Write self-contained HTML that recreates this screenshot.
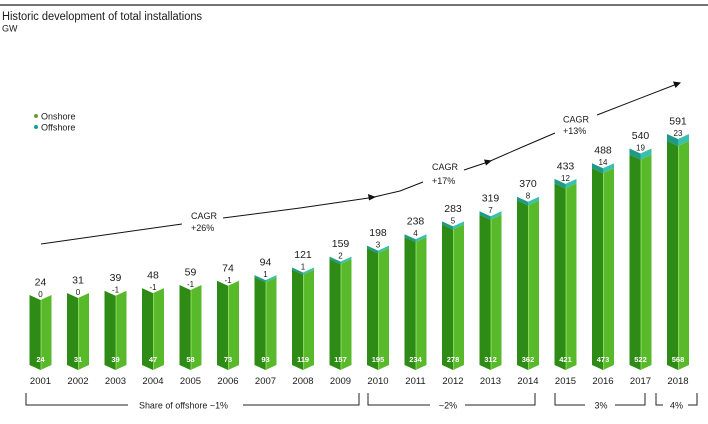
<!DOCTYPE html>
<html>
<head>
<meta charset="utf-8">
<style>
  html,body{margin:0;padding:0;background:#fff;}
  svg{display:block;}
  text{font-family:"Liberation Sans",Arial,sans-serif;fill:#1a1a1a;}
</style>
</head>
<body>
<svg width="708" height="424" viewBox="0 0 708 424" xmlns="http://www.w3.org/2000/svg">
  <rect width="708" height="424" fill="#fff"/>
  <line x1="0" y1="5" x2="708" y2="5" stroke="#222" stroke-width="1.3"/>
  <text x="2" y="20" font-size="11.5" textLength="200" lengthAdjust="spacingAndGlyphs">Historic development of total installations</text>
  <text x="2" y="31.5" font-size="9">GW</text>

  <!-- legend -->
  <circle cx="36" cy="116" r="2" fill="#6b9e3a"/>
  <text x="41" y="119.5" font-size="9">Onshore</text>
  <circle cx="36" cy="127" r="2" fill="#1c9c94"/>
  <text x="41" y="130.5" font-size="9">Offshore</text>

  <g id="bars"></g>

  <!-- CAGR arrows -->
  <g stroke="#111" stroke-width="1" fill="none">
    <polyline points="41,244 182,224"/>
    <polyline points="223,218 300,208 372,197.5 400,191 423,182"/>
    <polyline points="464,170 488,162 520,148 555,133"/>
    <polyline points="597,115 677,84"/>
  </g>
  <g fill="#111">
    <polygon points="376,197 368,194 369,200.5"/>
    <polygon points="492,160.5 484,159.5 486,165.5"/>
    <polygon points="681,82.5 673,81.5 675.5,88"/>
  </g>
  <text x="191" y="219" font-size="9">CAGR</text>
  <text x="191" y="231" font-size="9">+26%</text>
  <text x="432" y="170" font-size="9">CAGR</text>
  <text x="432" y="184" font-size="9">+17%</text>
  <text x="563" y="122.3" font-size="9">CAGR</text>
  <text x="563" y="134" font-size="9">+13%</text>

  <!-- brackets -->
  <g stroke="#222" stroke-width="1" fill="none">
    <polyline points="26,393 26,405 128,405"/>
    <polyline points="243,405 359,405 359,393"/>
    <polyline points="368,393 368,405 430,405"/>
    <polyline points="465,405 535,405 535,393"/>
    <polyline points="555,393 555,405 585,405"/>
    <polyline points="615,405 645,405 645,393"/>
    <polyline points="656,393 656,405 663,405"/>
    <polyline points="688,405 697,405 697,393"/>
  </g>
  <text x="139" y="408.5" font-size="9" textLength="89" lengthAdjust="spacingAndGlyphs">Share of offshore ~1%</text>
  <text x="448" y="408.5" font-size="9" text-anchor="middle">~2%</text>
  <text x="601" y="408.5" font-size="9" text-anchor="middle">3%</text>
  <text x="676.5" y="408.5" font-size="9" text-anchor="middle">4%</text>
</svg>
<script>
(function(){
  var data=[[2001,24,0,24],[2002,31,0,31],[2003,39,-1,39],[2004,48,-1,47],[2005,59,-1,58],[2006,74,-1,73],
  [2007,94,1,93],[2008,121,1,119],[2009,159,2,157],[2010,198,3,195],[2011,238,4,234],[2012,283,5,278],
  [2013,319,7,312],[2014,370,8,362],[2015,433,12,421],[2016,488,14,473],[2017,540,19,522],[2018,591,23,568]];
  var ns="http://www.w3.org/2000/svg";
  var g=document.getElementById("bars");
  function el(tag,attrs,txt){var e=document.createElementNS(ns,tag);for(var k in attrs)e.setAttribute(k,attrs[k]);if(txt!==undefined)e.textContent=txt;g.appendChild(e);return e;}
  function poly(pts,fill){el("polygon",{points:pts.map(function(p){return p[0].toFixed(2)+","+p[1].toFixed(2);}).join(" "),fill:fill});}
  var yb=365,d=5,hw=11;
  data.forEach(function(r,i){
    var cx=40.5+37.5*i, T=r[1], O=r[2], N=r[3];
    var top=yb-(63.2+0.284*T);
    var t=O>0?(2+0.22*O):0;
    var L=cx-hw,R=cx+hw;
    if(t>0){
      poly([[L,top],[cx,top+d],[cx,top+d+t],[L,top+t]],"#1e9a86");
      poly([[cx,top+d],[R,top],[R,top+t],[cx,top+d+t]],"#3cc0ae");
    }
    var gt=top+t;
    poly([[L,gt],[cx,gt+d],[cx,yb+d],[L,yb]],"#2e8c16");
    poly([[cx,gt+d],[R,gt],[R,yb],[cx,yb+d]],"#58ba2b");
    el("line",{x1:cx+0.6,y1:gt+d,x2:cx+0.6,y2:yb+d,stroke:"#8fd860","stroke-width":"1"});
    el("text",{x:cx,y:(top-9.5).toFixed(1),"font-size":"10.5","text-anchor":"middle"},String(T));
    el("text",{x:cx,y:(top+2).toFixed(1),"font-size":"8","text-anchor":"middle"},String(O));
    el("text",{x:cx,y:"362","font-size":"7.5","font-weight":"bold","text-anchor":"middle",style:"fill:#fff"},String(N));
    el("text",{x:cx,y:"384","font-size":"9.5","text-anchor":"middle"},String(r[0]));
  });
})();
</script>
</body>
</html>
